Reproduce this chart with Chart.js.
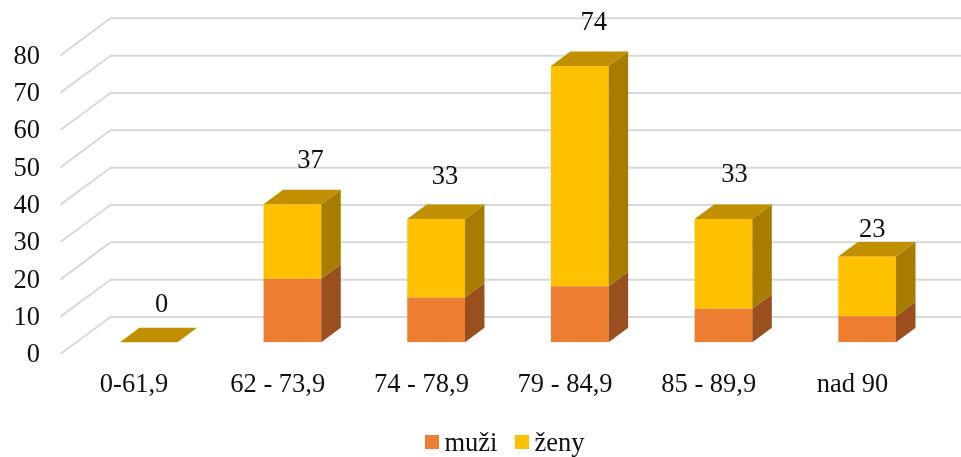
<!DOCTYPE html>
<html>
<head>
<meta charset="utf-8">
<style>
  html, body { margin: 0; padding: 0; background: #fff; }
  canvas { display: block; }
</style>
<script src="https://cdn.jsdelivr.net/npm/chart.js@4"></script>
</head>
<body>
<canvas id="chart" width="961" height="457"></canvas>
<script>
const categories = ["0-61,9", "62 - 73,9", "74 - 78,9", "79 - 84,9", "85 - 89,9", "nad 90"];
const muzi = [0, 17, 12, 15, 9, 7];
const zeny = [0, 20, 21, 59, 24, 16];
const yTicks = [0, 10, 20, 30, 40, 50, 60, 70, 80];

// total labels were placed by hand in the original, so each has its own nudge
const totalNudgeX = [13, 18, 9, 14, 11, 5];
const totalNudgeY = [-37, -43, -42, -43, -44, -26];

const FONT = '"Liberation Serif", "Times New Roman", serif';
const FONT_SIZE = 26.5;
const TEXT_COLOR = "#111";
const GRID_COLOR = "#d9d9d9";

// fake 3D offsets
const WALL_DX = 50, WALL_DY = -37, WALL_FRONT_DY = 11.7;
const BAR_DX = 19.5, BAR_DY = -14.5;

const sideColors = ["#9a501e", "#a67d00"];
const TOP_COLOR = "#c09000";

function poly(ctx, color, pts) {
    ctx.fillStyle = color;
    ctx.beginPath();
    pts.forEach((p, i) => (i ? ctx.lineTo(p[0], p[1]) : ctx.moveTo(p[0], p[1])));
    ctx.closePath();
    ctx.fill();
}

const gridWall = {
    id: "gridWall",
    beforeDatasetsDraw(chart) {
        const ctx = chart.ctx, y = chart.scales.y;
        ctx.save();
        ctx.strokeStyle = GRID_COLOR;
        ctx.lineWidth = 2;
        yTicks.forEach(v => {
            const py = y.getPixelForValue(v) + WALL_FRONT_DY;
            ctx.beginPath();
            ctx.moveTo(60.5, py);
            ctx.lineTo(60.5 + WALL_DX, py + WALL_DY);
            ctx.lineTo(961, py + WALL_DY);
            ctx.stroke();
        });
        ctx.restore();
    },
};

const barFaces = {
    id: "barFaces",
    afterDatasetsDraw(chart) {
        const ctx = chart.ctx;
        ctx.save();
        chart.data.datasets.forEach((ds, d) => {
            chart.getDatasetMeta(d).data.forEach(bar => {
                const r = bar.x + bar.width / 2;
                poly(ctx, sideColors[d], [
                    [r, bar.y], [r + BAR_DX, bar.y + BAR_DY],
                    [r + BAR_DX, bar.base + BAR_DY], [r, bar.base],
                ]);
                if (d === chart.data.datasets.length - 1) {
                    const l = bar.x - bar.width / 2;
                    poly(ctx, TOP_COLOR, [
                        [l, bar.y], [r, bar.y],
                        [r + BAR_DX, bar.y + BAR_DY], [l + BAR_DX, bar.y + BAR_DY],
                    ]);
                }
            });
        });

        // totals above the stacks
        ctx.font = FONT_SIZE + "px " + FONT;
        ctx.fillStyle = TEXT_COLOR;
        ctx.textAlign = "center";
        ctx.textBaseline = "middle";
        const top = chart.getDatasetMeta(chart.data.datasets.length - 1).data;
        top.forEach((bar, i) => {
            ctx.fillText(String(muzi[i] + zeny[i]), bar.x + totalNudgeX[i], bar.y + totalNudgeY[i]);
        });

        // legend, the built in one leaves too wide a gap after the box
        const legendX = [425, 515];
        chart.data.datasets.forEach((ds, d) => {
            ctx.fillStyle = ds.backgroundColor;
            ctx.fillRect(legendX[d], 435, 14, 14);
            ctx.fillStyle = TEXT_COLOR;
            ctx.textAlign = "left";
            ctx.textBaseline = "alphabetic";
            ctx.fillText(ds.label, legendX[d] + 19.5, 451);
        });
        ctx.restore();
    },
};

new Chart(document.getElementById("chart"), {
    type: "bar",
    data: {
        labels: categories,
        datasets: [
            { label: "muži", data: muzi, backgroundColor: "#ed7d31" },
            { label: "ženy", data: zeny, backgroundColor: "#ffc000" },
        ],
    },
    plugins: [gridWall, barFaces],
    options: {
        responsive: false,
        animation: false,
        layout: { padding: { top: 43.6, right: 22, bottom: 0, left: 0 } },
        plugins: { legend: { display: false }, tooltip: { enabled: false } },
        datasets: { bar: { barPercentage: 0.4015, categoryPercentage: 1 } },
        scales: {
            x: {
                stacked: true,
                grid: { display: false },
                border: { display: false },
                afterFit(scale) { scale.height = 114.7; },
                ticks: {
                    autoSkip: false,
                    maxRotation: 0,
                    padding: 19,
                    labelOffset: -14.7,
                    color: TEXT_COLOR,
                    font: { family: FONT, size: FONT_SIZE },
                },
            },
            y: {
                stacked: true,
                min: 0,
                max: 80,
                grid: { display: false, drawTicks: false },
                border: { display: false },
                afterFit(scale) {
                    scale.width = 76.9;
                    scale.paddingTop = 0;
                    scale.paddingBottom = 0;
                },
                afterBuildTicks(scale) { scale.ticks = yTicks.map(v => ({ value: v })); },
                ticks: {
                    padding: 37,
                    labelOffset: 13,
                    color: TEXT_COLOR,
                    font: { family: FONT, size: FONT_SIZE },
                },
            },
        },
    },
});
</script>
</body>
</html>
